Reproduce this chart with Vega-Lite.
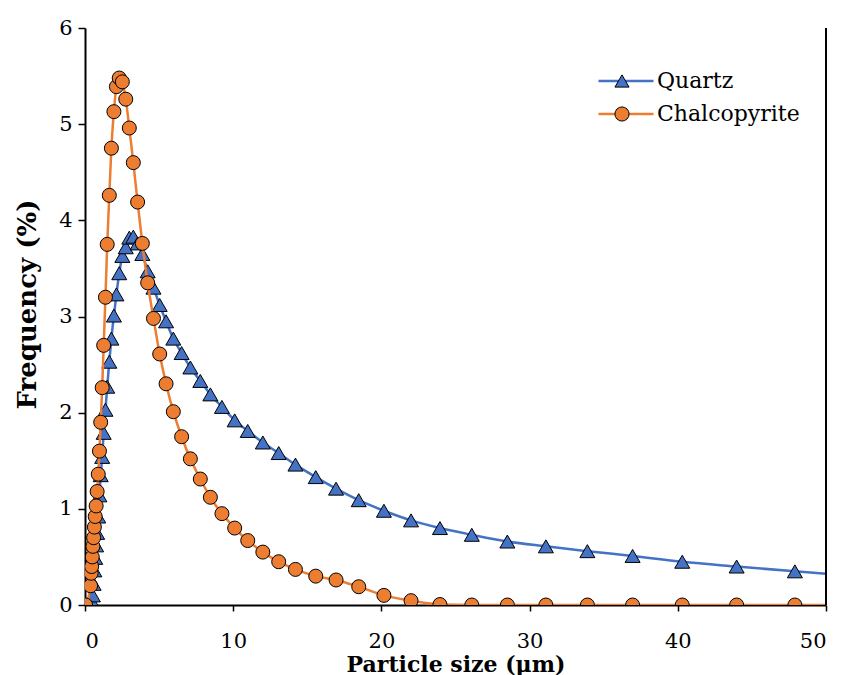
{
  "$schema": "https://vega.github.io/schema/vega-lite/v6.json",
  "width": 741,
  "height": 577,
  "autosize": {"type": "none"},
  "padding": {"left": 85, "top": 28, "right": 15, "bottom": 70},
  "background": "white",
  "config": {
    "view": {"stroke": null},
    "font": "DejaVu Serif"
  },
  "data": {
    "values": [
      {"size": 0.04, "Quartz": 0, "Chalcopyrite": 0},
      {"size": 0.378, "Quartz": 0, "Chalcopyrite": 0.2},
      {"size": 0.412, "Quartz": 0, "Chalcopyrite": 0.33},
      {"size": 0.449, "Quartz": 0, "Chalcopyrite": 0.4},
      {"size": 0.489, "Quartz": 0.03, "Chalcopyrite": 0.5},
      {"size": 0.533, "Quartz": 0.1, "Chalcopyrite": 0.61},
      {"size": 0.581, "Quartz": 0.22, "Chalcopyrite": 0.7},
      {"size": 0.633, "Quartz": 0.36, "Chalcopyrite": 0.81},
      {"size": 0.69, "Quartz": 0.49, "Chalcopyrite": 0.92},
      {"size": 0.752, "Quartz": 0.62, "Chalcopyrite": 1.03},
      {"size": 0.82, "Quartz": 0.75, "Chalcopyrite": 1.18},
      {"size": 0.894, "Quartz": 0.92, "Chalcopyrite": 1.36},
      {"size": 0.975, "Quartz": 1.14, "Chalcopyrite": 1.6},
      {"size": 1.06, "Quartz": 1.35, "Chalcopyrite": 1.9},
      {"size": 1.16, "Quartz": 1.54, "Chalcopyrite": 2.26},
      {"size": 1.26, "Quartz": 1.79, "Chalcopyrite": 2.7},
      {"size": 1.38, "Quartz": 2.03, "Chalcopyrite": 3.2},
      {"size": 1.5, "Quartz": 2.27, "Chalcopyrite": 3.75},
      {"size": 1.64, "Quartz": 2.53, "Chalcopyrite": 4.26},
      {"size": 1.78, "Quartz": 2.77, "Chalcopyrite": 4.75},
      {"size": 1.95, "Quartz": 3.01, "Chalcopyrite": 5.13},
      {"size": 2.12, "Quartz": 3.23, "Chalcopyrite": 5.39},
      {"size": 2.31, "Quartz": 3.45, "Chalcopyrite": 5.48},
      {"size": 2.52, "Quartz": 3.63, "Chalcopyrite": 5.44},
      {"size": 2.75, "Quartz": 3.72, "Chalcopyrite": 5.26},
      {"size": 2.99, "Quartz": 3.82, "Chalcopyrite": 4.96},
      {"size": 3.26, "Quartz": 3.83, "Chalcopyrite": 4.6},
      {"size": 3.55, "Quartz": 3.76, "Chalcopyrite": 4.19},
      {"size": 3.87, "Quartz": 3.65, "Chalcopyrite": 3.76},
      {"size": 4.23, "Quartz": 3.47, "Chalcopyrite": 3.35},
      {"size": 4.62, "Quartz": 3.3, "Chalcopyrite": 2.98},
      {"size": 5.04, "Quartz": 3.12, "Chalcopyrite": 2.61},
      {"size": 5.47, "Quartz": 2.95, "Chalcopyrite": 2.3},
      {"size": 5.96, "Quartz": 2.77, "Chalcopyrite": 2.01},
      {"size": 6.52, "Quartz": 2.62, "Chalcopyrite": 1.75},
      {"size": 7.11, "Quartz": 2.47, "Chalcopyrite": 1.52},
      {"size": 7.78, "Quartz": 2.33, "Chalcopyrite": 1.31},
      {"size": 8.46, "Quartz": 2.19, "Chalcopyrite": 1.12},
      {"size": 9.24, "Quartz": 2.06, "Chalcopyrite": 0.95},
      {"size": 10.1, "Quartz": 1.92, "Chalcopyrite": 0.8},
      {"size": 10.98, "Quartz": 1.81, "Chalcopyrite": 0.67},
      {"size": 12.0, "Quartz": 1.69, "Chalcopyrite": 0.55},
      {"size": 13.07, "Quartz": 1.58, "Chalcopyrite": 0.45},
      {"size": 14.2, "Quartz": 1.46, "Chalcopyrite": 0.37},
      {"size": 15.57, "Quartz": 1.33, "Chalcopyrite": 0.3},
      {"size": 16.94, "Quartz": 1.21, "Chalcopyrite": 0.26},
      {"size": 18.47, "Quartz": 1.09, "Chalcopyrite": 0.19},
      {"size": 20.17, "Quartz": 0.98, "Chalcopyrite": 0.1},
      {"size": 22.0, "Quartz": 0.88, "Chalcopyrite": 0.045},
      {"size": 23.95, "Quartz": 0.8, "Chalcopyrite": 0.005},
      {"size": 26.1, "Quartz": 0.73, "Chalcopyrite": 0},
      {"size": 28.5, "Quartz": 0.66, "Chalcopyrite": 0},
      {"size": 31.1, "Quartz": 0.61, "Chalcopyrite": 0},
      {"size": 33.9, "Quartz": 0.56, "Chalcopyrite": 0},
      {"size": 36.95, "Quartz": 0.51, "Chalcopyrite": 0},
      {"size": 40.3, "Quartz": 0.45, "Chalcopyrite": 0},
      {"size": 43.97, "Quartz": 0.4, "Chalcopyrite": 0},
      {"size": 47.9, "Quartz": 0.35, "Chalcopyrite": 0},
      {"size": 52.2, "Quartz": 0.3, "Chalcopyrite": 0}
    ]
  },
  "encoding": {
    "x": {
      "field": "size", "type": "quantitative",
      "scale": {"domain": [0, 50], "nice": false, "zero": false},
      "axis": {
        "values": [0, 10, 20, 30, 40, 50],
        "title": "Particle size (μm)",
        "grid": false,
        "domainColor": "black", "domainWidth": 2,
        "tickColor": "black", "tickSize": 6, "tickWidth": 1.5,
        "labelFontSize": 21, "labelColor": "black", "labelPadding": 19,
        "labelFont": "DejaVu Serif",
        "titleFontSize": 22, "titleFontWeight": "bold", "titleColor": "black",
        "titleFont": "DejaVu Serif", "titlePadding": 3
      }
    },
    "y": {
      "field": "freq", "type": "quantitative",
      "scale": {"domain": [0, 6], "nice": false},
      "axis": {
        "values": [0, 1, 2, 3, 4, 5, 6],
        "title": "Frequency (%)",
        "grid": false,
        "domainColor": "black", "domainWidth": 2,
        "tickColor": "black", "tickSize": 7, "tickWidth": 1.5,
        "labelFontSize": 21, "labelColor": "black", "labelPadding": 6,
        "labelFont": "DejaVu Serif",
        "titleFontSize": 26, "titleFontWeight": "bold", "titleColor": "black",
        "titleFont": "DejaVu Serif", "titlePadding": 18, "titleY": 276
      }
    }
  },
  "layer": [
    {
      "transform": [{"fold": ["Quartz"], "as": ["series", "freq"]}],
      "mark": {"type": "line", "interpolate": "monotone", "strokeWidth": 2.5, "clip": true},
      "encoding": {
        "stroke": {
          "field": "series", "type": "nominal",
          "sort": ["Quartz", "Chalcopyrite"],
          "scale": {"range": ["#4472C4", "#ED7D31"]},
          "legend": {
            "orient": "none", "legendX": 512, "legendY": 42, "title": null,
            "symbolType": "stroke", "symbolSize": 3025, "symbolStrokeWidth": 2.5,
            "clipHeight": 22,
            "labelFontSize": 22, "labelFont": "DejaVu Serif", "labelColor": "black",
            "labelOffset": 2, "rowPadding": 11, "padding": 0
          }
        }
      }
    },
    {
      "transform": [{"fold": ["Quartz"], "as": ["material", "freq"]}],
      "mark": {"type": "point", "filled": true, "opacity": 1, "stroke": "black", "strokeWidth": 1, "size": 225, "clip": true},
      "encoding": {
        "fill": {
          "field": "material", "type": "nominal",
          "scale": {"domain": ["Quartz", "Chalcopyrite"], "range": ["#4472C4", "#ED7D31"]},
          "legend": {
            "orient": "none", "legendX": 529, "legendY": 42, "title": null,
            "symbolSize": 200, "symbolStrokeColor": "black", "symbolStrokeWidth": 1, "symbolOpacity": 1,
            "clipHeight": 22,
            "labelExpr": "''",
            "labelOffset": 0, "rowPadding": 11, "padding": 0
          }
        },
        "shape": {
          "field": "material", "type": "nominal",
          "scale": {"domain": ["Quartz", "Chalcopyrite"], "range": ["triangle-up", "circle"]}
        }
      }
    },
    {
      "transform": [{"fold": ["Chalcopyrite"], "as": ["series", "freq"]}],
      "mark": {"type": "line", "interpolate": "monotone", "strokeWidth": 2.5, "clip": true},
      "encoding": {
        "stroke": {"field": "series", "type": "nominal", "sort": ["Quartz", "Chalcopyrite"]}
      }
    },
    {
      "transform": [{"fold": ["Chalcopyrite"], "as": ["material", "freq"]}],
      "mark": {"type": "point", "filled": true, "opacity": 1, "stroke": "black", "strokeWidth": 1, "size": 196, "clip": true},
      "encoding": {
        "fill": {"field": "material", "type": "nominal"},
        "shape": {"field": "material", "type": "nominal"}
      }
    },
    {
      "data": {"values": [{"edge": 50, "bottom": 0, "top": 6}]},
      "mark": {"type": "rule", "color": "black", "strokeWidth": 2},
      "encoding": {
        "x": {"field": "edge", "type": "quantitative"},
        "y": {"field": "bottom", "type": "quantitative"},
        "y2": {"field": "top"}
      }
    }
  ]
}
